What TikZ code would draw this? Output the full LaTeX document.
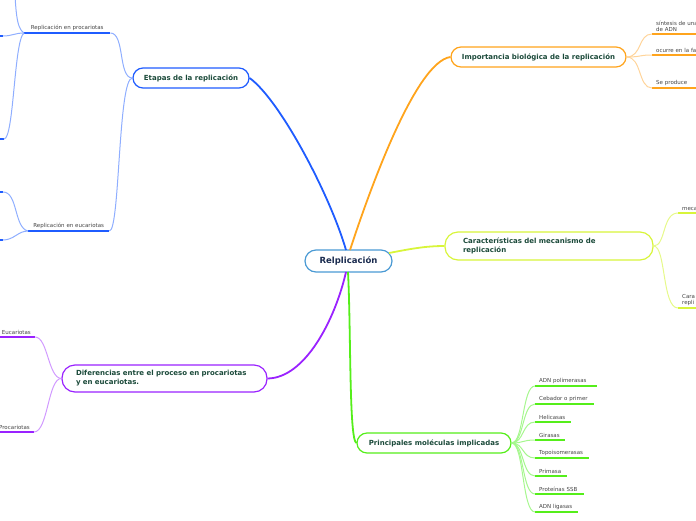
\documentclass[tikz,border=0pt]{standalone}
\usepackage{fontspec}
\setmainfont{DejaVu Sans}
\definecolor{cblue}{HTML}{1F5CFF}
\definecolor{lblue}{HTML}{8FAEFF}
\definecolor{corange}{HTML}{FFA41C}
\definecolor{lorange}{HTML}{FFD49A}
\definecolor{cyel}{HTML}{D8F53A}
\definecolor{lyel}{HTML}{E6F98A}
\definecolor{cgreen}{HTML}{55EE1A}
\definecolor{lgreen}{HTML}{A6F78E}
\definecolor{cpurple}{HTML}{9A22FF}
\definecolor{lpurple}{HTML}{D19AFF}
\definecolor{ccenter}{HTML}{4A9AD4}
\definecolor{tgreen}{HTML}{1B4A3A}
\definecolor{tnavy}{HTML}{1A2B4F}
\definecolor{tgray}{HTML}{444444}
\tikzset{
  mainbox/.style={draw, rounded corners=10pt, line width=1.2pt, fill=white,
    font=\fontsize{7}{9}\selectfont\bfseries, text=tgreen, inner sep=0pt},
  childbox/.style={anchor=south west, inner xsep=4pt, inner ysep=2pt, text=tgray,
    font=\fontsize{5.5}{6.6}\selectfont, align=left},
  thick link/.style={line width=1.8pt},
  thin link/.style={line width=1pt},
  uline/.style={line width=2pt}
}
\begin{document}
\begin{tikzpicture}[x=1pt,y=-1pt]
\useasboundingbox (0,0) rectangle (696,520);

% ---------- main nodes ----------
\node[mainbox, draw=ccenter, text=tnavy, font=\fontsize{8.5}{10}\selectfont\bfseries,
  rounded corners=11pt, minimum width=87pt, minimum height=22pt] (ctr) at (348.5,261) {Relplicación};
\node[mainbox, draw=cblue, minimum width=116pt, minimum height=20pt] (etapas) at (191,78) {Etapas de la replicación};
\node[mainbox, draw=corange, minimum width=175pt, minimum height=20pt] (imp) at (538.5,57) {Importancia biológica de la replicación};
\node[mainbox, draw=cyel, rounded corners=13pt, inner xsep=18pt, text width=172pt, align=left,
  minimum height=28pt] (car) at (549,246) {Características del mecanismo de\\replicación};
\node[mainbox, draw=cgreen, minimum width=154pt, minimum height=20pt] (mol) at (434,443) {Principales moléculas implicadas};
\node[mainbox, draw=cpurple, rounded corners=13pt, inner xsep=14pt, text width=177pt, align=left,
  minimum height=27pt] (dif) at (164.5,378.5) {Diferencias entre el proceso en procariotas\\y en eucariotas.};

% ---------- main connectors ----------
\draw[thick link, cblue] (346,250) .. controls (330,195) and (280,100) .. (etapas.east);
\draw[thick link, corange] (350,250) .. controls (368,195) and (415,62) .. (imp.west);
\draw[thick link, cyel] (389,253) .. controls (410,249) and (425,246) .. (car.west);
\draw[thick link, cgreen] (348,272) .. controls (351,330) and (349,440) .. (mol.west);
\draw[thick link, cpurple] (346,272) .. controls (335,320) and (305,378) .. (dif.east);

% ---------- Etapas children ----------
\node[childbox, text width=78pt, align=center] (rp) at (24,33) {Replicación en procariotas};
\node[childbox, text width=73pt, align=center] (re) at (28,231) {Replicación en eucariotas};
\draw[uline, cblue] (rp.south west) -- (rp.south east);
\draw[uline, cblue] (re.south west) -- (re.south east);
\draw[thin link, lblue] (etapas.west) .. controls (118,78) and (125,33) .. (rp.south east);
\draw[thin link, lblue] (etapas.west) .. controls (118,78) and (120,231) .. (re.south east);

\coordinate (p0) at (14,-20);
\coordinate (p1) at (3,36);
\coordinate (p2) at (4,139);
\coordinate (p3) at (3,192);
\coordinate (p4) at (3,240);
\draw[uline, cblue] (-40,36) -- (p1);
\draw[uline, cblue] (-40,139) -- (p2);
\draw[uline, cblue] (-40,192) -- (p3);
\draw[uline, cblue] (-40,240) -- (p4);
\draw[thin link, lblue] (rp.south west) .. controls (16,28) and (16,10) .. (p0);
\draw[thin link, lblue] (rp.south west) .. controls (15,33) and (12,36) .. (p1);
\draw[thin link, lblue] (rp.south west) .. controls (14,40) and (14,139) .. (p2);
\draw[thin link, lblue] (re.south west) .. controls (14,228) and (18,192) .. (p3);
\draw[thin link, lblue] (re.south west) .. controls (18,231) and (14,240) .. (p4);

% ---------- Importancia children ----------
\node[childbox, text width=80pt] (i1) at (652,34) {síntesis de una\\de ADN};
\node[childbox, text width=80pt] (i2) at (652,55) {ocurre en la fa};
\node[childbox, text width=80pt] (i3) at (652,88) {Se produce};
\foreach \n in {i1,i2,i3} {
  \draw[uline, corange] (\n.south west) -- (\n.south east);
  \draw[thin link, lorange] (imp.east) .. controls (642,57) and (638,0 |- \n.south west) .. (\n.south west);
}

% ---------- Caracteristicas children ----------
\node[childbox, text width=80pt] (k1) at (678,213) {meca};
\node[childbox, text width=80pt] (k2) at (678,308) {Cara\\repli};
\foreach \n in {k1,k2} {
  \draw[uline, cyel] (\n.south west) -- (\n.south east);
  \draw[thin link, lyel] (car.east) .. controls (666,246) and (662,0 |- \n.south west) .. (\n.south west);
}

% ---------- Moleculas children ----------
\node[childbox, text width=54pt] (m1) at (535,386) {ADN polimerasas};
\node[childbox, text width=51pt] (m2) at (535,404) {Cebador o primer};
\node[childbox, text width=28pt] (m3) at (535,422) {Helicasas};
\node[childbox, text width=22pt] (m4) at (535,440) {Girasas};
\node[childbox, text width=46pt] (m5) at (535,458) {Topoisomerasas};
\node[childbox, text width=24pt] (m6) at (535,476) {Primasa};
\node[childbox, text width=41pt] (m7) at (535,494) {Proteínas SSB};
\node[childbox, text width=35pt] (m8) at (535,512) {ADN ligasas};
\foreach \n in {m1,m2,m3,m4,m5,m6,m7,m8} {
  \draw[uline, cgreen] (\n.south west) -- (\n.south east);
  \draw[thin link, lgreen] (mol.east) .. controls (524,443) and (522,0 |- \n.south west) .. (\n.south west);
}

% ---------- Diferencias children ----------
\node[childbox, anchor=south east, inner xsep=4pt, text width=40pt, align=right] (d1) at (35,337) {Eucariotas};
\node[childbox, anchor=south east, inner xsep=4pt, text width=40pt, align=right] (d2) at (34,432) {Procariotas};
\draw[uline, cpurple] (-10,337) -- (d1.south east);
\draw[uline, cpurple] (-10,432) -- (d2.south east);
\draw[thin link, lpurple] (dif.west) .. controls (48,378) and (48,337) .. (d1.south east);
\draw[thin link, lpurple] (dif.west) .. controls (48,378) and (48,432) .. (d2.south east);
\end{tikzpicture}
\end{document}
